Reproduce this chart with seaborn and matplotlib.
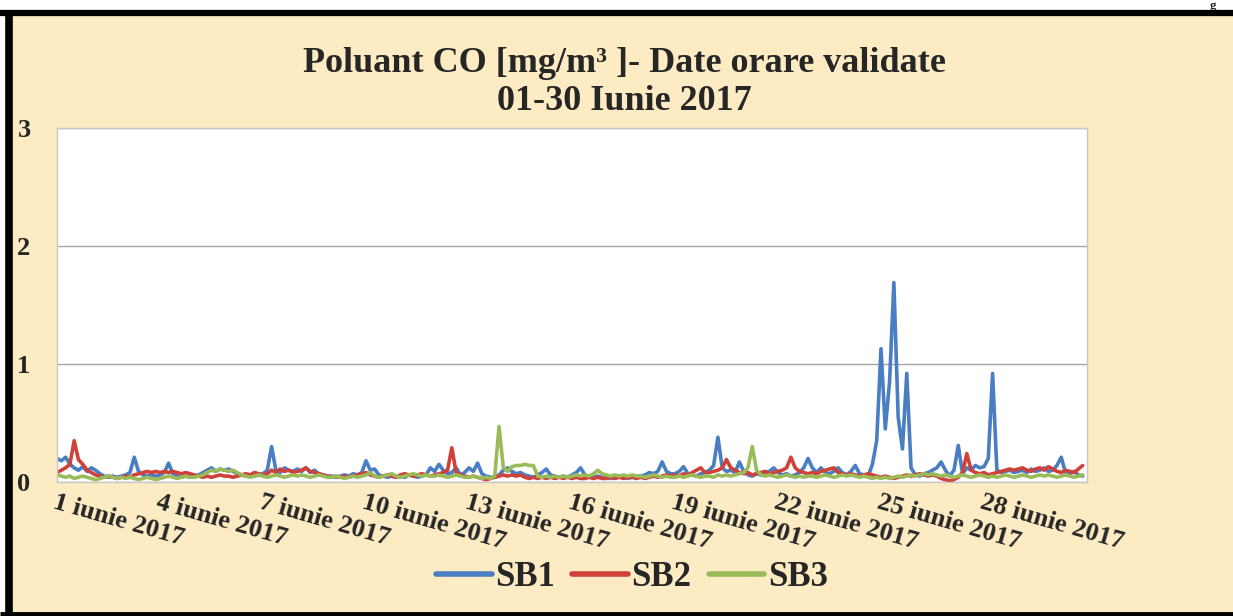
#Import Libraries
import matplotlib
matplotlib.use('Agg')
import matplotlib.pyplot as plt
import pandas as pd
import seaborn as sns
from matplotlib.lines import Line2D
from matplotlib.patches import Rectangle

#Valori orare CO [mg/m3], citite din grafic la pas de 3 ore (8 valori / zi)
sb1 = [
    0.20, 0.18, 0.21, 0.15, 0.12, 0.10, 0.13, 0.09,  # 1 iunie
    0.12, 0.10, 0.07, 0.05, 0.04, 0.05, 0.04, 0.05,  # 2
    0.06, 0.08, 0.21, 0.09, 0.06, 0.05, 0.06, 0.05,  # 3
    0.06, 0.08, 0.16, 0.07, 0.05, 0.04, 0.05, 0.04,  # 4
    0.05, 0.06, 0.08, 0.10, 0.12, 0.09, 0.11, 0.10,  # 5
    0.11, 0.09, 0.07, 0.06, 0.05, 0.06, 0.05, 0.06,  # 6
    0.07, 0.10, 0.30, 0.10, 0.08, 0.12, 0.10, 0.09,  # 7
    0.11, 0.09, 0.12, 0.08, 0.10, 0.07, 0.06, 0.05,  # 8
    0.05, 0.04, 0.05, 0.06, 0.05, 0.07, 0.06, 0.08,  # 9
    0.18, 0.10, 0.11, 0.06, 0.05, 0.04, 0.05, 0.04,  # 10
    0.05, 0.04, 0.06, 0.05, 0.04, 0.05, 0.06, 0.12,  # 11
    0.09, 0.15, 0.10, 0.07, 0.08, 0.12, 0.06, 0.08,  # 12
    0.12, 0.09, 0.16, 0.07, 0.05, 0.04, 0.04, 0.06,  # 13
    0.10, 0.12, 0.09, 0.07, 0.08, 0.06, 0.05, 0.04,  # 14
    0.06, 0.08, 0.11, 0.06, 0.05, 0.04, 0.05, 0.04,  # 15
    0.06, 0.08, 0.12, 0.06, 0.05, 0.04, 0.05, 0.04,  # 16
    0.04, 0.03, 0.04, 0.05, 0.04, 0.03, 0.04, 0.05,  # 17
    0.05, 0.06, 0.08, 0.07, 0.09, 0.17, 0.09, 0.07,  # 18
    0.07, 0.09, 0.13, 0.07, 0.06, 0.05, 0.07, 0.08,  # 19
    0.10, 0.14, 0.38, 0.12, 0.09, 0.10, 0.08, 0.17,  # 20
    0.09, 0.06, 0.05, 0.07, 0.06, 0.08, 0.09, 0.12,  # 21
    0.08, 0.06, 0.07, 0.05, 0.06, 0.08, 0.12, 0.20,  # 22
    0.12, 0.08, 0.12, 0.08, 0.07, 0.09, 0.12, 0.08,  # 23
    0.06, 0.09, 0.14, 0.07, 0.06, 0.05, 0.15, 0.35,  # 24
    1.13, 0.45, 0.85, 1.69, 0.55, 0.28, 0.92, 0.12,  # 25
    0.06, 0.05, 0.07, 0.08, 0.10, 0.12, 0.17, 0.10,  # 26
    0.05, 0.10, 0.31, 0.07, 0.12, 0.10, 0.14, 0.12,  # 27
    0.13, 0.20, 0.92, 0.10, 0.08, 0.09, 0.10, 0.08,  # 28
    0.09, 0.10, 0.08, 0.11, 0.09, 0.10, 0.12, 0.09,  # 29
    0.10, 0.14, 0.21, 0.08, 0.07, 0.09, 0.06, 0.05,  # 30
]
sb2 = [
    0.08, 0.10, 0.12, 0.15, 0.35, 0.19, 0.15, 0.10,  # 1 iunie
    0.08, 0.06, 0.05, 0.04, 0.05, 0.04, 0.03, 0.04,  # 2
    0.05, 0.04, 0.06, 0.07, 0.08, 0.09, 0.08, 0.09,  # 3
    0.08, 0.09, 0.08, 0.09, 0.08, 0.07, 0.08, 0.07,  # 4
    0.06, 0.05, 0.04, 0.05, 0.04, 0.05, 0.06, 0.05,  # 5
    0.05, 0.04, 0.05, 0.06, 0.07, 0.06, 0.08, 0.07,  # 6
    0.06, 0.07, 0.10, 0.08, 0.11, 0.09, 0.10, 0.08,  # 7
    0.09, 0.10, 0.12, 0.09, 0.08, 0.07, 0.06, 0.05,  # 8
    0.04, 0.05, 0.04, 0.05, 0.04, 0.05, 0.06, 0.07,  # 9
    0.08, 0.06, 0.05, 0.04, 0.05, 0.06, 0.05, 0.04,  # 10
    0.06, 0.07, 0.06, 0.05, 0.06, 0.07, 0.06, 0.05,  # 11
    0.06, 0.07, 0.08, 0.10, 0.29, 0.08, 0.06, 0.05,  # 12
    0.04, 0.05, 0.04, 0.03, 0.02, 0.03, 0.04, 0.05,  # 13
    0.06, 0.05, 0.06, 0.05, 0.06, 0.04, 0.03, 0.04,  # 14
    0.03, 0.04, 0.03, 0.04, 0.03, 0.04, 0.03, 0.04,  # 15
    0.03, 0.04, 0.03, 0.03, 0.04, 0.03, 0.04, 0.03,  # 16
    0.03, 0.04, 0.03, 0.04, 0.03, 0.04, 0.04, 0.03,  # 17
    0.04, 0.03, 0.04, 0.05, 0.04, 0.05, 0.06, 0.05,  # 18
    0.06, 0.05, 0.07, 0.06, 0.08, 0.10, 0.12, 0.08,  # 19
    0.08, 0.09, 0.10, 0.12, 0.19, 0.12, 0.10, 0.08,  # 20
    0.07, 0.08, 0.06, 0.07, 0.08, 0.09, 0.07, 0.08,  # 21
    0.09, 0.10, 0.12, 0.21, 0.12, 0.09, 0.08, 0.07,  # 22
    0.08, 0.07, 0.09, 0.10, 0.11, 0.12, 0.08, 0.07,  # 23
    0.06, 0.07, 0.06, 0.05, 0.06, 0.07, 0.06, 0.05,  # 24
    0.04, 0.05, 0.04, 0.03, 0.04, 0.05, 0.06, 0.05,  # 25
    0.06, 0.07, 0.06, 0.05, 0.06, 0.05, 0.03, 0.02,  # 26
    0.01, 0.02, 0.04, 0.08, 0.24, 0.10, 0.08, 0.07,  # 27
    0.08, 0.06, 0.07, 0.08, 0.09, 0.10, 0.11, 0.10,  # 28
    0.11, 0.12, 0.10, 0.09, 0.11, 0.12, 0.10, 0.13,  # 29
    0.11, 0.09, 0.08, 0.10, 0.09, 0.08, 0.11, 0.14,  # 30
]
sb3 = [
    0.06, 0.05, 0.04, 0.05, 0.03, 0.04, 0.05, 0.04,  # 1 iunie
    0.03, 0.02, 0.03, 0.04, 0.05, 0.04, 0.03, 0.04,  # 2
    0.03, 0.04, 0.03, 0.02, 0.03, 0.04, 0.03, 0.02,  # 3
    0.03, 0.04, 0.05, 0.04, 0.03, 0.04, 0.05, 0.04,  # 4
    0.04, 0.05, 0.06, 0.08, 0.10, 0.09, 0.11, 0.10,  # 5
    0.09, 0.10, 0.08, 0.06, 0.05, 0.04, 0.05, 0.06,  # 6
    0.05, 0.04, 0.05, 0.06, 0.05, 0.04, 0.05, 0.06,  # 7
    0.05, 0.06, 0.05, 0.04, 0.05, 0.06, 0.05, 0.04,  # 8
    0.04, 0.05, 0.04, 0.03, 0.04, 0.05, 0.04, 0.05,  # 9
    0.06, 0.08, 0.05, 0.04, 0.05, 0.06, 0.07, 0.05,  # 10
    0.04, 0.05, 0.06, 0.07, 0.06, 0.05, 0.06, 0.05,  # 11
    0.05, 0.06, 0.05, 0.04, 0.05, 0.06, 0.05, 0.04,  # 12
    0.04, 0.05, 0.04, 0.03, 0.04, 0.03, 0.05, 0.47,  # 13
    0.12, 0.09, 0.13, 0.14, 0.14, 0.15, 0.14, 0.14,  # 14
    0.05, 0.04, 0.05, 0.04, 0.05, 0.04, 0.05, 0.04,  # 15
    0.05, 0.06, 0.05, 0.06, 0.05, 0.07, 0.10, 0.07,  # 16
    0.06, 0.05, 0.06, 0.05, 0.06, 0.05, 0.06, 0.05,  # 17
    0.05, 0.04, 0.05, 0.06, 0.05, 0.04, 0.05, 0.04,  # 18
    0.04, 0.05, 0.04, 0.05, 0.06, 0.05, 0.04, 0.05,  # 19
    0.05, 0.04, 0.06, 0.05, 0.06, 0.05, 0.06, 0.07,  # 20
    0.08, 0.12, 0.30, 0.10, 0.06, 0.05, 0.06, 0.05,  # 21
    0.04, 0.05, 0.06, 0.05, 0.04, 0.05, 0.04, 0.05,  # 22
    0.05, 0.04, 0.05, 0.06, 0.05, 0.04, 0.05, 0.06,  # 23
    0.05, 0.06, 0.05, 0.04, 0.05, 0.04, 0.03, 0.04,  # 24
    0.03, 0.04, 0.03, 0.04, 0.05, 0.04, 0.05, 0.06,  # 25
    0.05, 0.06, 0.07, 0.06, 0.07, 0.06, 0.05, 0.06,  # 26
    0.05, 0.04, 0.05, 0.06, 0.05, 0.04, 0.05, 0.06,  # 27
    0.05, 0.04, 0.05, 0.04, 0.05, 0.06, 0.05, 0.04,  # 28
    0.05, 0.06, 0.05, 0.04, 0.05, 0.06, 0.05, 0.06,  # 29
    0.05, 0.04, 0.05, 0.06, 0.05, 0.04, 0.05, 0.06,  # 30
]
statii = ['SB1', 'SB2', 'SB3']
culori = ['#4A7EC2', '#D0413A', '#9BBB59']
zile_etichete = [1, 4, 7, 10, 13, 16, 19, 22, 25, 28]
etichete = ['%d iunie 2017' % z for z in zile_etichete]

#Tabel lung pentru seaborn
ore = pd.date_range('2017-06-01', periods=len(sb1), freq='3h')
df = pd.DataFrame({'Ora': ore, 'SB1': sb1, 'SB2': sb2, 'SB3': sb3})
df_long = df.melt(id_vars='Ora', var_name='Statie', value_name='CO')

sns.set_style('white')
plt.rcParams['font.family'] = ['Liberation Serif', 'DejaVu Serif']
plt.rcParams['font.weight'] = 'bold'

W, H = 1233, 616
fig = plt.figure(figsize=(W / 100, H / 100), dpi=100, facecolor='white')

#Fundal crem + rama neagra
fig.patches.append(Rectangle((12 / W, 3 / H), 1 - 12 / W, 600 / H, transform=fig.transFigure,
                             facecolor='#FDEBC3', edgecolor='none', zorder=-5))
fig.text(1213 / W, 1.0, 'g', ha='center', va='top', fontsize=9, fontweight='bold', zorder=1)
for xs, ys, lw in [([0, 1], [1 - 13 / H] * 2, 4.5),
                   ([9 / W] * 2, [0, 1 - 13 / H], 5.5),
                   ([0, 1], [2 / H] * 2, 3.5)]:
    fig.add_artist(Line2D(xs, ys, transform=fig.transFigure, color='black', lw=lw,
                          solid_capstyle='butt', zorder=5))

ax = fig.add_axes([57 / W, 1 - 482 / H, 1030 / W, 354 / H])
ax.set_zorder(6)
ax.set_facecolor('white')
sns.lineplot(data=df_long, x='Ora', y='CO', hue='Statie', hue_order=statii,
             palette=culori, lw=2.6, ax=ax, legend=False)

ax.set_ylim(0, 3)
ax.set_yticks([0, 1, 2, 3])
ax.yaxis.grid(True, color='#A6A6A6', lw=1)
ax.set_xlim(pd.Timestamp('2017-06-01'), pd.Timestamp('2017-07-01'))
ax.set_xticks(pd.to_datetime(['2017-06-%02d' % z for z in zile_etichete]))
ax.set_xticklabels(etichete, rotation=-16, ha='left', va='top', rotation_mode='anchor',
                   fontsize=19, fontweight='bold')
ax.tick_params(axis='x', length=0, pad=6)
ax.tick_params(axis='y', length=0, pad=19, labelsize=19)
ax.set_xlabel('')
ax.set_ylabel('')
for s in ax.spines.values():
    s.set_color('#C8C8C8')
    s.set_linewidth(1)

#Titlu pe doua randuri
fig.text(624 / W, 1 - 63 / H, 'Poluant CO [mg/m\u00b3 ]- Date orare validate',
         ha='center', va='center', fontsize=26, fontweight='bold')
fig.text(624 / W, 1 - 101 / H, '01-30 Iunie 2017',
         ha='center', va='center', fontsize=26, fontweight='bold')

#Legenda
handles = [Line2D([], [], color=c, lw=4) for c in culori]
fig.legend(handles, statii, loc='center', bbox_to_anchor=(632 / W, 1 - 578 / H), ncol=3,
           frameon=False, prop={'family': 'Liberation Serif', 'weight': 'bold', 'size': 25},
           handlelength=1.6, handletextpad=0.1, columnspacing=0.5)

fig.savefig('out.png', dpi=100, facecolor=fig.get_facecolor())
